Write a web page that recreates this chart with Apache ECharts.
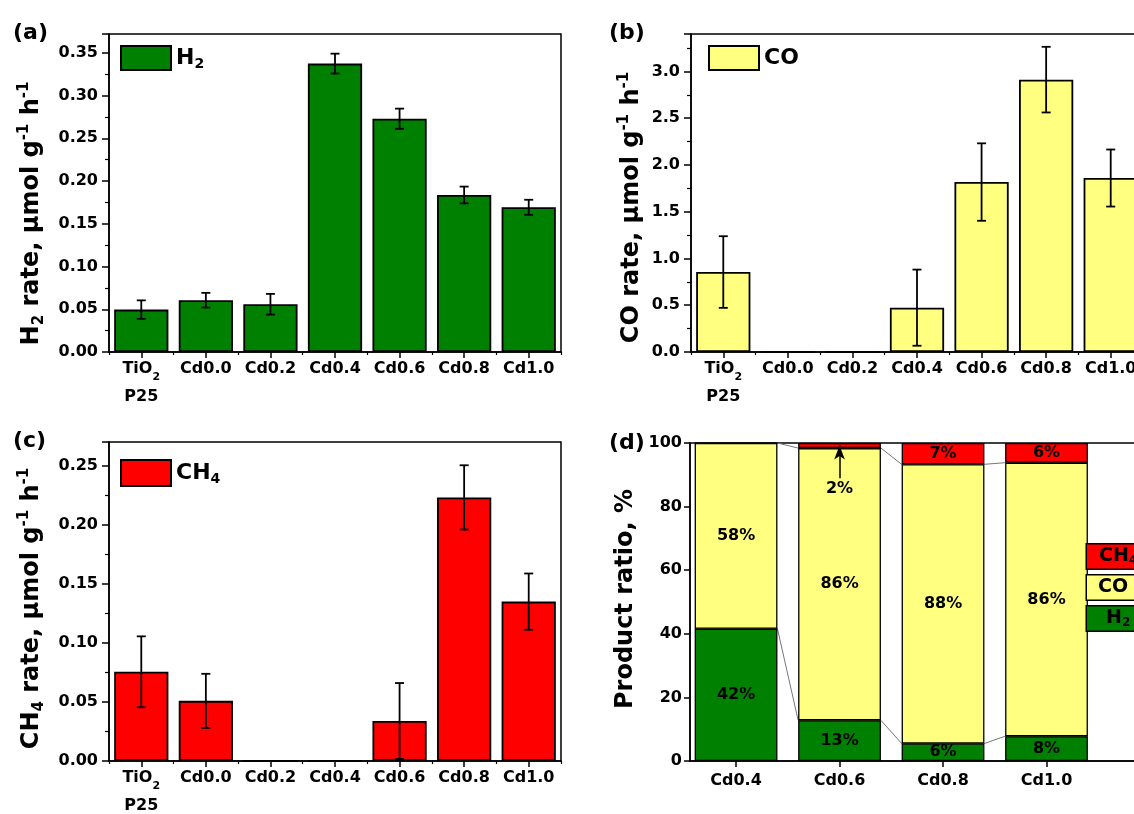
<!DOCTYPE html>
<html><head><meta charset="utf-8">
<script src="https://cdn.jsdelivr.net/npm/echarts@6/dist/echarts.min.js"></script>
<style>html,body{margin:0;padding:0;background:#fff;overflow:hidden}#c{width:1200px;height:814px}</style>
</head><body><div id="c"></div>
<script>
// ---------------- data ----------------
const categories = ['TiO2', 'Cd0.0', 'Cd0.2', 'Cd0.4', 'Cd0.6', 'Cd0.8', 'Cd1.0'];
const h2Rate  = [0.0496, 0.0606, 0.0559, 0.3374, 0.2729, 0.1837, 0.1693];
const h2Err   = [0.0108, 0.0086, 0.0121, 0.0116, 0.0118, 0.0098, 0.0088];
const coRate  = [0.855, 0, 0, 0.474, 1.817, 2.912, 1.860];
const coErr   = [0.383, 0, 0, 0.407, 0.414, 0.351, 0.305];
const ch4Rate = [0.0755, 0.0509, 0, 0, 0.0339, 0.2231, 0.1349];
const ch4Err  = [0.0300, 0.0229, 0, 0, 0.0321, 0.0272, 0.0238];
const ratioCats = ['Cd0.4', 'Cd0.6', 'Cd0.8', 'Cd1.0'];
const ratioH2  = [41.6, 12.8, 5.5, 7.8];
const ratioCO  = [58.4, 85.6, 87.8, 86.0];
const ratioCH4 = [0, 1.6, 6.7, 6.2];

// ---------------- styling helpers ----------------
const FF = 'DejaVu Sans';
const GREEN = '#008000', YELLOW = '#FFFF80', RED = '#FF0000';
const BW = 1.8;
const base = {fontFamily: FF, fontWeight: 'bold', color: '#000'};

const catRich = {
  n: Object.assign({fontSize: 16, lineHeight: 28}, base),
  s: Object.assign({fontSize: 11, lineHeight: 12, verticalAlign: 'bottom'}, base)
};
function catFmt(v) {
  if (v === 'TiO2') return '{n|TiO}{s|2}\n{n|P25}';
  return '{n|' + v + '}';
}
const nameRich = {
  t: Object.assign({fontSize: 24, lineHeight: 30}, base),
  s: Object.assign({fontSize: 15, lineHeight: 14, verticalAlign: 'bottom'}, base),
  p: Object.assign({fontSize: 15, lineHeight: 16, verticalAlign: 'top'}, base)
};
const legRich = {
  t: Object.assign({fontSize: 22, lineHeight: 26}, base),
  s: Object.assign({fontSize: 14, lineHeight: 12, verticalAlign: 'bottom'}, base)
};
const legRichD = {
  t: Object.assign({fontSize: 19, lineHeight: 20}, base),
  s: Object.assign({fontSize: 12, lineHeight: 10, verticalAlign: 'bottom'}, base)
};
function legFmt(name) {
  return ({H2: '{t|H}{s|2}', CO: '{t|CO}', CH4: '{t|CH}{s|4}'})[name];
}
const axLine = {show: true, lineStyle: {color: '#000', width: 1.5}};

function yAxis(gi, max, interval, digits, name, gap, pad) {
  return {
    type: 'value', gridIndex: gi, min: 0, max: max, interval: interval,
    axisLine: axLine,
    axisTick: {show: true, length: 7, lineStyle: {color: '#000', width: 1.5}},
    minorTick: {show: true, splitNumber: 2, length: 4, lineStyle: {color: '#000', width: 1.2}},
    splitLine: {show: false},
    axisLabel: Object.assign({fontSize: 16, margin: 11, showMaxLabel: false,
      formatter: v => v.toFixed(digits)}, base),
    name: name, nameLocation: 'middle', nameRotate: 90, nameGap: gap,
    nameTextStyle: {rich: nameRich, padding: pad}
  };
}
function xMain(gi) {
  return {
    type: 'category', gridIndex: gi, data: categories,
    axisLine: axLine,
    axisTick: {show: true, alignWithLabel: true, length: 6, lineStyle: {color: '#000', width: 1.5}},
    axisLabel: {formatter: catFmt, rich: catRich, margin: 3, interval: 0}
  };
}
function xMinor(gi) {
  return {
    type: 'category', gridIndex: gi, data: categories, position: 'bottom',
    axisLine: {show: false},
    axisTick: {show: true, length: 3, lineStyle: {color: '#000', width: 1.2}},
    axisLabel: {show: false}
  };
}
function errItem(params, api) {
  const e = api.value(2);
  if (!e) return null;
  const x = api.value(0), y = api.value(1);
  const top = api.coord([x, y + e]);
  const bot = api.coord([x, y - e]);
  const cap = 4.5;
  const st = {stroke: '#000', lineWidth: 1.8, fill: null};
  return {type: 'group', children: [
    {type: 'line', shape: {x1: top[0], y1: top[1], x2: bot[0], y2: bot[1]}, style: st},
    {type: 'line', shape: {x1: top[0] - cap, y1: top[1], x2: top[0] + cap, y2: top[1]}, style: st},
    {type: 'line', shape: {x1: bot[0] - cap, y1: bot[1], x2: bot[0] + cap, y2: bot[1]}, style: st}
  ]};
}
function rateBar(name, vals, color, xi, yi) {
  return {
    type: 'bar', name: name, xAxisIndex: xi, yAxisIndex: yi, data: vals,
    barWidth: '84%',
    itemStyle: {color: color, borderColor: '#000', borderWidth: BW}
  };
}
function errSeries(vals, errs, xi, yi) {
  return {
    type: 'custom', xAxisIndex: xi, yAxisIndex: yi, silent: true, z: 5,
    renderItem: errItem, encode: {x: 0, y: 1},
    data: vals.map((v, i) => [i, v, errs[i]])
  };
}

// panel (d): value x-axis so the first column sits close to the y axis
const dMin = 0.555, dMax = 5.0, dGridW = 460;
const dPeriod = dGridW / (dMax - dMin);
const dHalf = 0.4;
const topH2 = ratioH2.slice();
const topCO = ratioH2.map((v, i) => v + ratioCO[i]);
function connector(tops) {
  const pts = [];
  tops.forEach((v, i) => { pts.push([i + 1 - dHalf, v]); pts.push([i + 1 + dHalf, v]); });
  return pts;
}
function pctLabel(p) { return p.value[0] >= 3 ? Math.round(p.value[0]) + '%' : ''; }
const dLabel = Object.assign({show: true, position: 'inside', fontSize: 16, formatter: pctLabel}, base);
// data stored as [ratio, position] so that the stack is applied to the ratio dimension
function ratioBar(name, vals, color) {
  return {
    type: 'bar', name: name, xAxisIndex: 6, yAxisIndex: 3, stack: 'r', barWidth: 0.8 * dPeriod, z: 3,
    encode: {x: 1, y: 0},
    itemStyle: {color: color, borderColor: '#000', borderWidth: 1.3}, label: dLabel,
    data: vals.map((v, i) => [v, i + 1])
  };
}

const gridStyle = {show: true, borderColor: '#000', borderWidth: 1.5, backgroundColor: 'transparent'};

const ch4Bar = ratioBar('CH4', ratioCH4, RED);
ch4Bar.markLine = {
  silent: true, symbol: ['none', 'arrow'], symbolSize: [8, 14],
  lineStyle: {color: '#000', width: 1.5, type: 'solid'},
  label: Object.assign({show: true, position: 'start', distance: 3, fontSize: 16,
    formatter: Math.round(ratioCH4[1]) + '%'}, base),
  data: [[{coord: [2, topCO[1] - 9.5]}, {coord: [2, topCO[1] + ratioCH4[1] / 2]}]]
};

const option = {
  animation: false,
  backgroundColor: '#fff',
  title: [
    {text: '(a)', left: 8, top: 17, textStyle: Object.assign({fontSize: 22}, base)},
    {text: '(b)', left: 604, top: 17, textStyle: Object.assign({fontSize: 22}, base)},
    {text: '(c)', left: 8, top: 425, textStyle: Object.assign({fontSize: 22}, base)},
    {text: '(d)', left: 604, top: 427, textStyle: Object.assign({fontSize: 22}, base)}
  ],
  grid: [
    Object.assign({left: 109, top: 34, width: 452, height: 318}, gridStyle),
    Object.assign({left: 691, top: 34, width: 452, height: 318}, gridStyle),
    Object.assign({left: 109, top: 442, width: 452, height: 319}, gridStyle),
    Object.assign({left: 690, top: 443, width: dGridW, height: 318}, gridStyle)
  ],
  legend: [
    {left: 120, top: 45, padding: 0, icon: 'rect', itemWidth: 50, itemHeight: 24, selectedMode: false,
     data: ['H2'], formatter: legFmt, textStyle: {rich: legRich}},
    {left: 708, top: 45, padding: 0, icon: 'rect', itemWidth: 50, itemHeight: 24, selectedMode: false,
     data: ['CO'], formatter: legFmt, textStyle: {rich: legRich}},
    {left: 120, top: 459, padding: 0, icon: 'rect', itemWidth: 50, itemHeight: 26, selectedMode: false,
     data: ['CH4'], formatter: legFmt, textStyle: {rich: legRich}},
    {left: 1081, top: 543, padding: 0, orient: 'vertical', itemGap: 4, itemWidth: 0, itemHeight: 0,
     selectedMode: false, formatter: legFmt,
     textStyle: {rich: legRichD, borderColor: '#000', borderWidth: 1.5},
     data: [
       {name: 'CH4', textStyle: {backgroundColor: RED, padding: [2, 2, 2, 12], width: 48}},
       {name: 'CO', textStyle: {backgroundColor: YELLOW, padding: [2, 2, 2, 11], width: 49}},
       {name: 'H2', textStyle: {backgroundColor: GREEN, padding: [2, 2, 2, 19], width: 41}}
     ]}
  ],
  xAxis: [
    xMain(0), xMinor(0),
    xMain(1), xMinor(1),
    xMain(2), xMinor(2),
    {type: 'value', gridIndex: 3, min: dMin, max: dMax,
     axisLine: axLine, splitLine: {show: false},
     axisTick: {show: true, length: 6, customValues: [1, 2, 3, 4], lineStyle: {color: '#000', width: 1.5}},
     axisLabel: Object.assign({fontSize: 16, margin: 12, customValues: [1, 2, 3, 4],
       formatter: v => ratioCats[Math.round(v) - 1] || ''}, base)}
  ],
  yAxis: [
    yAxis(0, 0.372, 0.05, 2, '{t|H}{s|2}{t| rate, μmol g}{p|-1}{t| h}{p|-1}', 62, [0, 41, 0, 0]),
    yAxis(1, 3.4, 0.5, 1, '{t|CO rate, μmol g}{p|-1}{t| h}{p|-1}', 44, [0, 29, 0, 0]),
    yAxis(2, 0.27, 0.05, 2, '{t|CH}{s|4}{t| rate, μmol g}{p|-1}{t| h}{p|-1}', 62, [0, 14, 0, 0]),
    Object.assign(yAxis(3, 100, 20, 0, '{t|Product ratio, %}', 49, [0, 0, 0, 6]),
      {minorTick: {show: false}, axisTick: {show: true, length: 6, lineStyle: {color: '#000', width: 1.5}},
       axisLabel: Object.assign({fontSize: 16, margin: 8}, base)})
  ],
  series: [
    rateBar('H2', h2Rate, GREEN, 0, 0), errSeries(h2Rate, h2Err, 0, 0),
    rateBar('CO', coRate, YELLOW, 2, 1), errSeries(coRate, coErr, 2, 1),
    rateBar('CH4', ch4Rate, RED, 4, 2), errSeries(ch4Rate, ch4Err, 4, 2),
    {type: 'line', xAxisIndex: 6, yAxisIndex: 3, z: 1, silent: true, symbol: 'none',
     lineStyle: {color: '#777', width: 1}, data: connector(topH2)},
    {type: 'line', xAxisIndex: 6, yAxisIndex: 3, z: 1, silent: true, symbol: 'none',
     lineStyle: {color: '#777', width: 1}, data: connector(topCO)},
    ratioBar('H2', ratioH2, GREEN),
    ratioBar('CO', ratioCO, YELLOW),
    ch4Bar
  ]
};
const chart = echarts.init(document.getElementById('c'), null, {renderer: 'canvas'});
chart.setOption(option);
</script>
</body></html>
